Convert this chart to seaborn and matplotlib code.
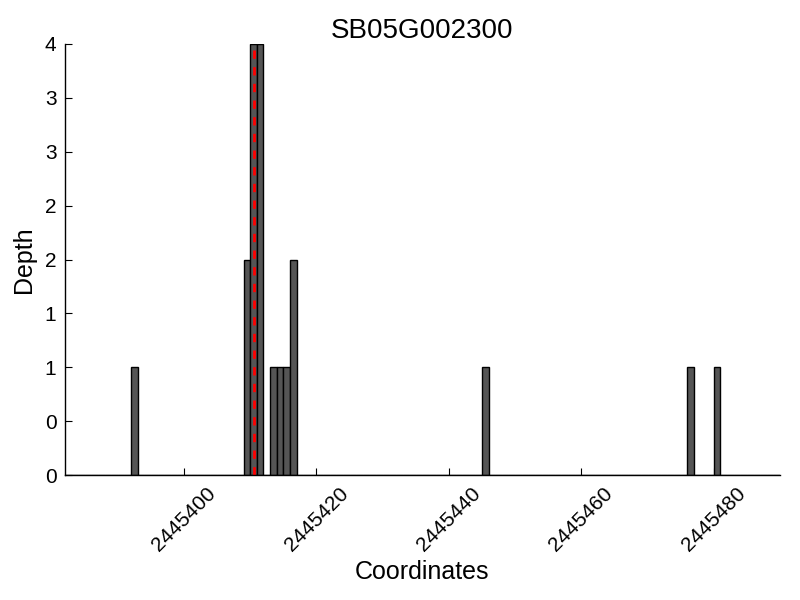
import pandas as pd
import seaborn as sns
import matplotlib
matplotlib.use("Agg")
import matplotlib.pyplot as plt
from matplotlib.ticker import FormatStrFormatter, MultipleLocator

positions = [2445392, 2445409, 2445410, 2445411, 2445413, 2445414, 2445415,
             2445416, 2445445, 2445476, 2445480]
depths = [1, 2, 4, 4, 1, 1, 1, 2, 1, 1, 1]
gene = "SB05G002300"
marker_pos = 2445410.5

df = pd.DataFrame({"pos": positions, "depth": depths})

sns.set_style("ticks", {"axes.edgecolor": "black", "text.color": "black",
                        "axes.labelcolor": "black", "xtick.color": "black",
                        "ytick.color": "black"})
plt.rcParams["font.family"] = ["Liberation Sans", "DejaVu Sans"]

fig = plt.figure(figsize=(8, 6), dpi=100)
ax = fig.add_axes([0.081, 0.208, 0.894, 0.719])

sns.histplot(data=df, x="pos", weights="depth",
             binwidth=1, binrange=(2445382, 2445490),
             color="#555555", alpha=1, edgecolor="black", linewidth=1, ax=ax)
ax.axvline(marker_pos, color="red", linestyle=(0, (3, 3)), linewidth=2)

ax.set_xlim(2445382, 2445490)
ax.set_ylim(0, 4)
ax.xaxis.set_major_locator(MultipleLocator(20))
ax.yaxis.set_major_locator(MultipleLocator(0.5))
ax.yaxis.set_major_formatter(FormatStrFormatter("%d"))
ax.xaxis.set_major_formatter(FormatStrFormatter("%d"))
ax.tick_params(direction="in", labelsize=15, length=5, pad=6)
plt.setp(ax.get_xticklabels(), rotation=45)

sns.despine(ax=ax)
ax.spines["left"].set_linewidth(1)
ax.spines["bottom"].set_linewidth(1)
ax.set_title(gene, fontsize=20, pad=4)
ax.set_xlabel("Coordinates", fontsize=18)
ax.set_ylabel("Depth", fontsize=18, labelpad=6)

fig.savefig("out.png", dpi=100)
